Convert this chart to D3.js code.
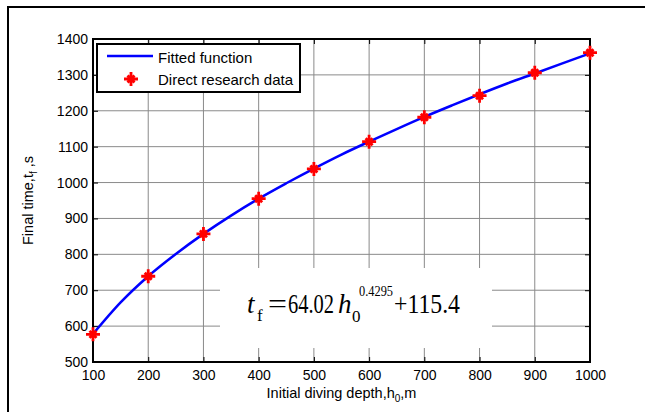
<!DOCTYPE html>
<html>
<head>
<meta charset="utf-8">
<script src="https://cdn.jsdelivr.net/npm/d3@7"></script>
<style>
  html, body { margin: 0; padding: 0; background: #fff; }
  svg { display: block; font-family: "Liberation Sans", Arial, sans-serif; }
</style>
</head>
<body>
<svg id="chart" width="645" height="412"></svg>
<script>
// values
const xTicks = [100, 200, 300, 400, 500, 600, 700, 800, 900, 1000]
const yTicks = [500, 600, 700, 800, 900, 1000, 1100, 1200, 1300, 1400]

// fitted curve, read every 50 m
const curveDepth = [100, 150, 200, 250, 300, 350, 400, 450, 500, 550, 600, 650, 700, 750, 800, 850, 900, 950, 1000]
const curveTime = [578, 666, 739, 801, 857, 908, 955, 998, 1039, 1078, 1114, 1149, 1183, 1215, 1246, 1276, 1304, 1332, 1360]

// direct research data
const dataDepth = [100, 200, 300, 400, 500, 600, 700, 800, 900, 1000]
const dataTime = [577, 739, 857, 955, 1038, 1114, 1182, 1242, 1306, 1362]

const legendLabels = ["Fitted function", "Direct research data"]

const pLeft = 93, pRight = 590, pTop = 39, pBottom = 362

const svg = d3.select('#chart')
svg.selectAll('*').remove()

// outer frame of the figure
svg.append('path')
    .attr('d', 'M8,412V7H645')
    .attr('fill', 'none')
    .attr('stroke', '#000')
    .attr('stroke-width', 2)

const x = d3.scaleLinear().domain([100, 1000]).range([pLeft, pRight])
const y = d3.scaleLinear().domain([500, 1400]).range([pBottom, pTop])

// grid
const grid = svg.append('g').attr('class', 'grid')
grid.selectAll('line.v').data(xTicks).enter().append('line')
    .attr('class', 'v')
    .attr('x1', d => x(d)).attr('x2', d => x(d))
    .attr('y1', pTop).attr('y2', pBottom)
    .attr('stroke', '#8a8a8a').attr('stroke-width', 1)
grid.selectAll('line.h').data(yTicks).enter().append('line')
    .attr('class', 'h')
    .attr('x1', pLeft).attr('x2', pRight)
    .attr('y1', d => y(d)).attr('y2', d => y(d))
    .attr('stroke', '#8a8a8a').attr('stroke-width', 1)

// white panel behind the equation
svg.append('rect')
    .attr('x', 220).attr('y', 268)
    .attr('width', 272).attr('height', 80)
    .attr('fill', '#fff')

// axes, ticks pointing inward
const fmt = d3.format('d')
const xAxis = d3.axisBottom(x).tickValues(xTicks).tickFormat(fmt).tickSizeInner(-5).tickSizeOuter(0).tickPadding(8)
const yAxis = d3.axisLeft(y).tickValues(yTicks).tickFormat(fmt).tickSizeInner(-5).tickSizeOuter(0).tickPadding(5)
const xTop = d3.axisTop(x).tickValues(xTicks).tickSizeInner(-5).tickSizeOuter(0).tickFormat('')
const yRight = d3.axisRight(y).tickValues(yTicks).tickSizeInner(-5).tickSizeOuter(0).tickFormat('')

svg.append('g').attr('transform', 'translate(0,' + pBottom + ')').call(xAxis)
svg.append('g').attr('transform', 'translate(' + pLeft + ',0)').call(yAxis)
svg.append('g').attr('transform', 'translate(0,' + pTop + ')').call(xTop)
svg.append('g').attr('transform', 'translate(' + pRight + ',0)').call(yRight)

svg.selectAll('.domain').remove()
svg.selectAll('.tick line').attr('stroke', '#000')
svg.selectAll('.tick text').attr('font-size', 14).attr('fill', '#000')
    .attr('font-family', '"Liberation Sans", Arial, sans-serif')

// plot box
svg.append('rect')
    .attr('x', pLeft).attr('y', pTop)
    .attr('width', pRight - pLeft).attr('height', pBottom - pTop)
    .attr('fill', 'none').attr('stroke', '#000').attr('stroke-width', 2)

// fitted curve
const line = d3.line()
    .x((d, i) => x(curveDepth[i]))
    .y(d => y(d))
    .curve(d3.curveMonotoneX)

svg.append('path')
    .datum(curveTime)
    .attr('d', line)
    .attr('fill', 'none')
    .attr('stroke', '#0000ff')
    .attr('stroke-width', 2.5)

// star markers
const star = 'M-7,0H7M0,-7V7M-3.5,-3.5L3.5,3.5M-3.5,3.5L3.5,-3.5'
svg.selectAll('path.pt').data(dataTime).enter().append('path')
    .attr('class', 'pt')
    .attr('d', star)
    .attr('transform', (d, i) => 'translate(' + x(dataDepth[i]) + ',' + y(d) + ')')
    .attr('stroke', '#ff0000')
    .attr('stroke-width', 2.8)
    .attr('fill', 'none')

// legend
const legend = svg.append('g').attr('transform', 'translate(97,44)')
legend.append('rect')
    .attr('width', 203).attr('height', 48)
    .attr('fill', '#fff').attr('stroke', '#000').attr('stroke-width', 2)
legend.append('line')
    .attr('x1', 10).attr('x2', 56).attr('y1', 12).attr('y2', 12)
    .attr('stroke', '#0000ff').attr('stroke-width', 2.5)
legend.append('path')
    .attr('d', star)
    .attr('transform', 'translate(34,35)')
    .attr('stroke', '#ff0000').attr('stroke-width', 2.8).attr('fill', 'none')
legend.selectAll('text').data(legendLabels).enter().append('text')
    .attr('x', 61)
    .attr('y', (d, i) => 19 + i * 22)
    .attr('font-size', 15)
    .text(d => d)

// axis labels
const xl = svg.append('text')
    .attr('x', (pLeft + pRight) / 2).attr('y', 398)
    .attr('text-anchor', 'middle').attr('font-size', 14.5)
xl.append('tspan').text('Initial diving depth,h')
xl.append('tspan').attr('font-size', 10).attr('dy', 4).text('0')
xl.append('tspan').attr('dy', -4).text(',m')

const yl = svg.append('text')
    .attr('transform', 'translate(33,' + (pTop + pBottom) / 2 + ') rotate(-90)')
    .attr('text-anchor', 'middle').attr('font-size', 14.5)
yl.append('tspan').text('Final time,t')
yl.append('tspan').attr('font-size', 10).attr('dy', 4).text('f')
yl.append('tspan').attr('dy', -4).text('\u00a0,s')

// equation: one text, each piece placed on its own
const eq = svg.append('text')
    .attr('font-family', '"Liberation Serif", "Times New Roman", serif')
    .attr('fill', '#000')
const eqParts = [
    { t: 't', x: 247, y: 313, s: 27, it: true },
    { t: 'f', x: 257, y: 321, s: 17 },
    { t: '=', x: 268, y: 313, s: 27, w: 19 },
    { t: '64.02', x: 288, y: 313, s: 27, w: 46 },
    { t: 'h', x: 338, y: 313, s: 27, it: true },
    { t: '0', x: 352, y: 322, s: 17 },
    { t: '0.4295', x: 359, y: 296, s: 14, w: 34 },
    { t: '+115.4', x: 394, y: 313, s: 27, w: 66 }
]
eqParts.forEach(p => {
    const t = eq.append('tspan')
        .attr('x', p.x).attr('y', p.y)
        .attr('font-size', p.s)
        .attr('font-style', p.it ? 'italic' : 'normal')
        .text(p.t)
    if (p.w) t.attr('textLength', p.w).attr('lengthAdjust', 'spacingAndGlyphs')
})
</script>
</body>
</html>
